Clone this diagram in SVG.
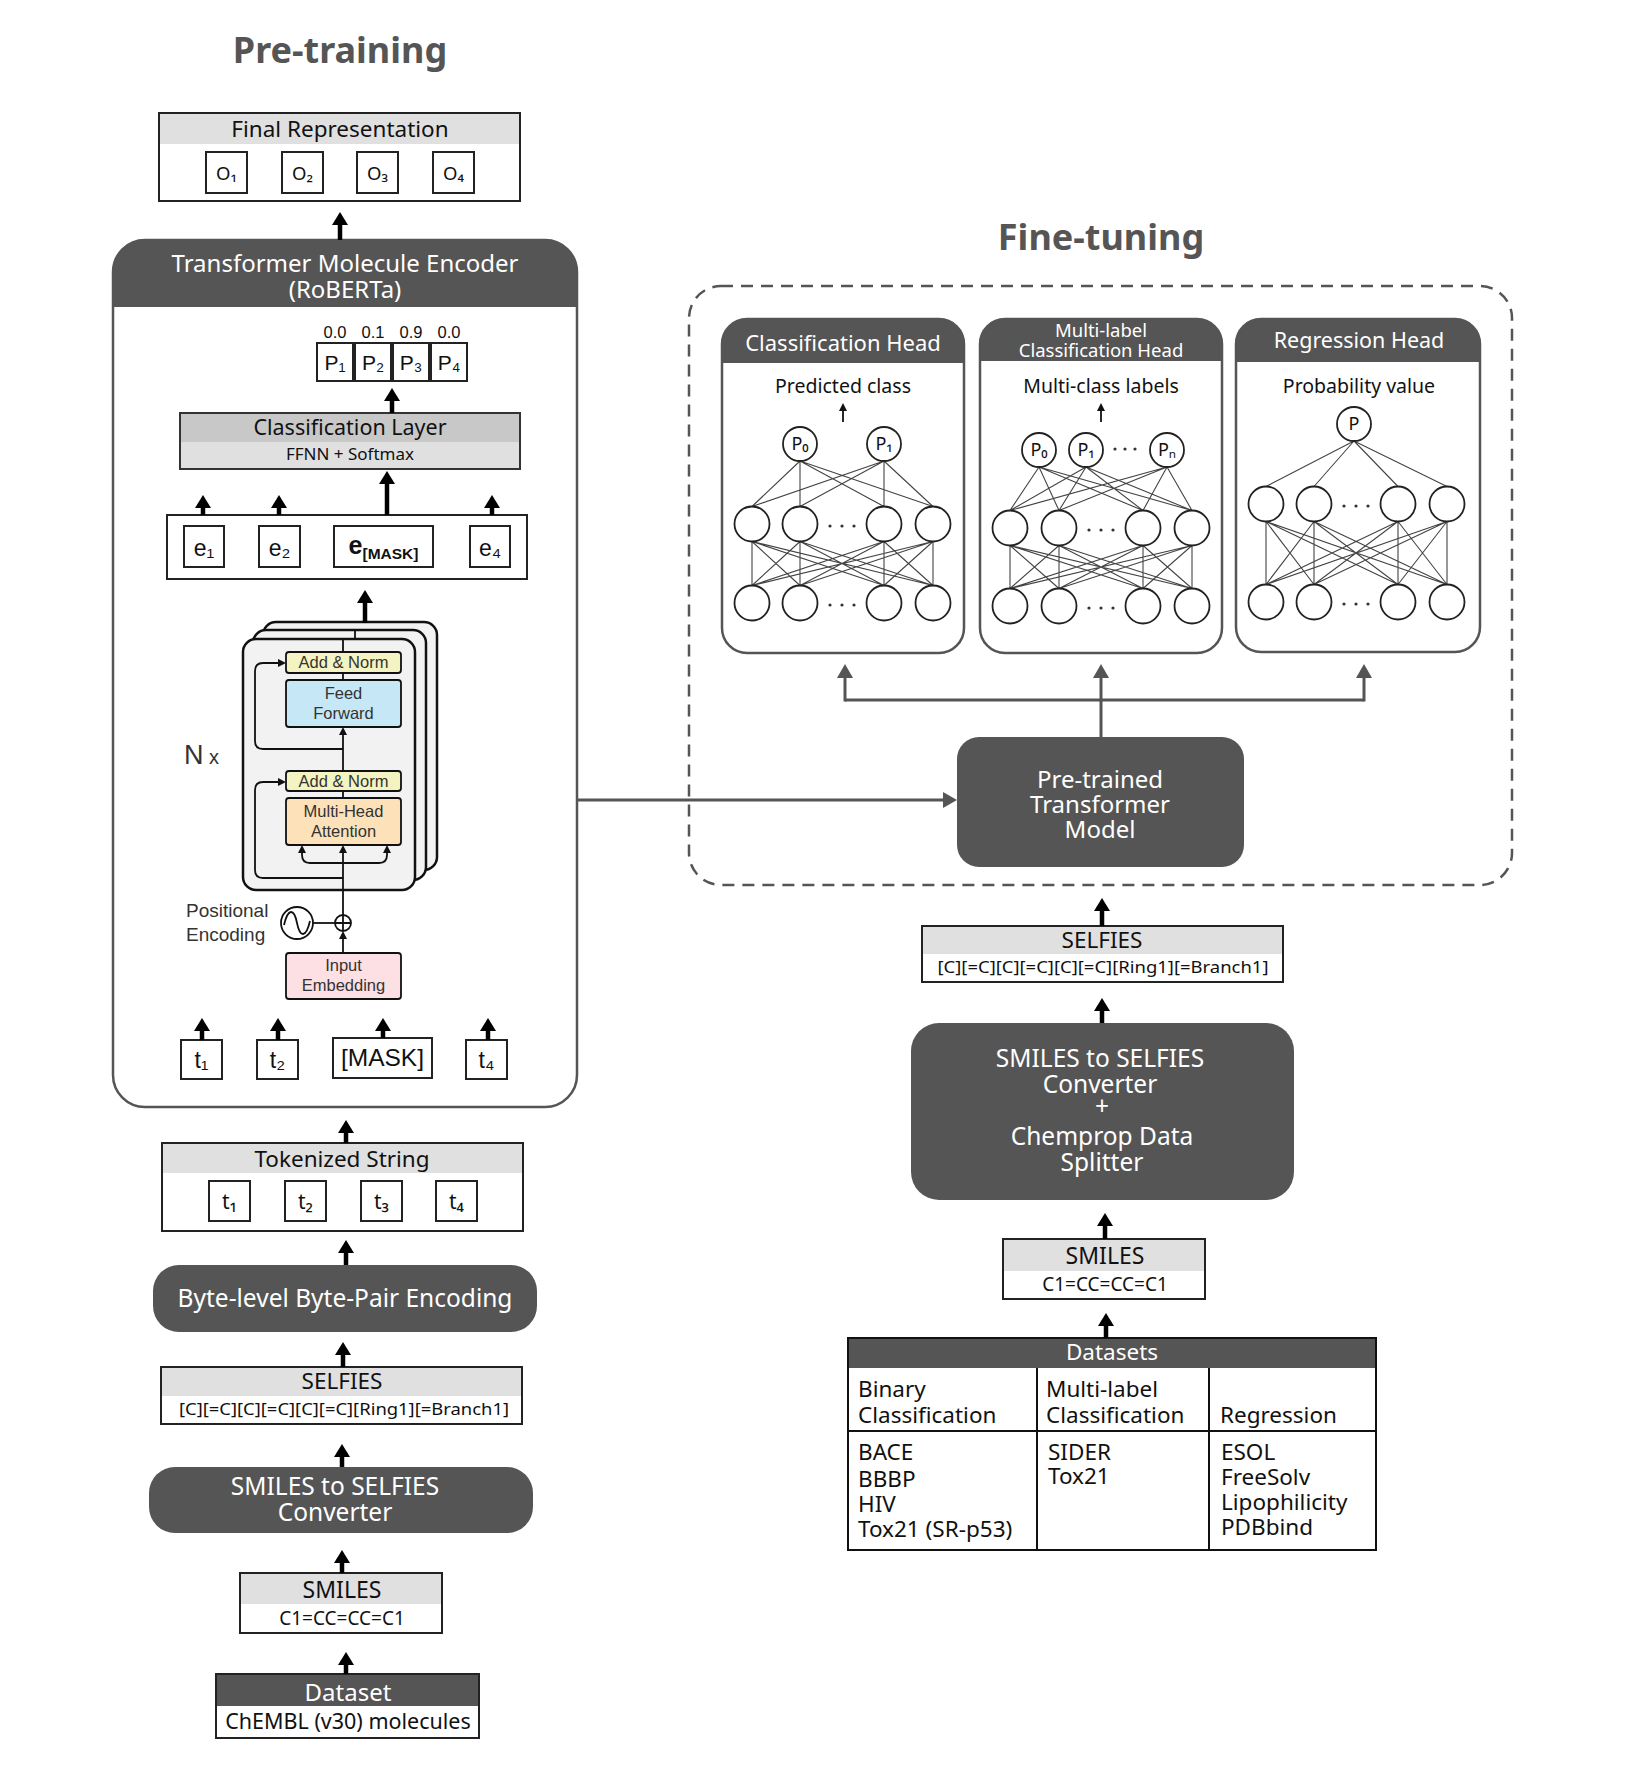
<svg xmlns="http://www.w3.org/2000/svg" width="1626" height="1770" viewBox="0 0 1626 1770">
<defs>
<style>
.t{font-family:"Noto Sans","Open Sans","DejaVu Sans",sans-serif;fill:#111}
.a{font-family:"Liberation Sans",Arial,"DejaVu Sans",sans-serif;fill:#111}
.g{fill:#333}
.w{fill:#fff}
.c{text-anchor:middle}
.ttl{font-weight:bold;font-size:36px;fill:#555}
.box{fill:#fff;stroke:#222;stroke-width:2}
.band{fill:#e0e0e0}
.dark{fill:#555}
.frame{fill:none;stroke:#555;stroke-width:2.5}
.arr{stroke:#000;stroke-width:4.5;fill:none;marker-end:url(#mb)}
.garr{stroke:#555;stroke-width:3;fill:none}
.gah{stroke:#555;stroke-width:3;fill:none;marker-end:url(#mg)}
.thin{stroke:#111;stroke-width:1.8;fill:none}
.tha{stroke:#111;stroke-width:1.8;fill:none;marker-end:url(#mt)}
.nn{stroke:#444;stroke-width:1.1;fill:none}
.node{fill:#fff;stroke:#222;stroke-width:1.8}
.dot{fill:#333}
.stk{fill:#f2f2f2;stroke:#111;stroke-width:2.5}
.tb{stroke:#111;stroke-width:1.8}
.dt{font-size:22.5px}
</style>
<marker id="mb" viewBox="0 0 13 16" markerWidth="13" markerHeight="16" refX="2" refY="8" orient="auto" markerUnits="userSpaceOnUse"><path d="M0,0 L13,8 L0,16 Z" fill="#000"/></marker>
<marker id="mg" viewBox="0 0 14 16" markerWidth="14" markerHeight="16" refX="2" refY="8" orient="auto" markerUnits="userSpaceOnUse"><path d="M0,0 L14,8 L0,16 Z" fill="#555"/></marker>
<marker id="mt" viewBox="0 0 8 8" markerWidth="8" markerHeight="8" refX="1" refY="4" orient="auto" markerUnits="userSpaceOnUse"><path d="M0,0 L8,4 L0,8 Z" fill="#111"/></marker>
</defs>
<rect width="1626" height="1770" fill="#fff"/>

<text class="t ttl c" x="340" y="63">Pre-training</text>
<text class="t ttl c" x="1101" y="250">Fine-tuning</text>

<!-- Final Representation -->
<g id="final-representation">
<rect class="box" x="159" y="113" width="361" height="88"/>
<rect class="band" x="160" y="114" width="359" height="30"/>
<text class="t c" x="340" y="137" font-size="22.5">Final Representation</text>
<rect class="box" x="206" y="152" width="41" height="41"/>
<rect class="box" x="282" y="152" width="41" height="41"/>
<rect class="box" x="357" y="152" width="41" height="41"/>
<rect class="box" x="433" y="152" width="41" height="41"/>
<text class="t c" x="226.5" y="180" font-size="18.5">O₁</text>
<text class="t c" x="302.5" y="180" font-size="18.5">O₂</text>
<text class="t c" x="377.5" y="180" font-size="18.5">O₃</text>
<text class="t c" x="453.5" y="180" font-size="18.5">O₄</text>
</g>

<!-- Encoder -->
<g id="encoder">
<rect x="113" y="240" width="464" height="867" rx="32" fill="#fff"/>
<path class="dark" d="M113,307 V272 A32,32 0 0 1 145,240 H545 A32,32 0 0 1 577,272 V307 Z"/>
<rect class="frame" x="113" y="240" width="464" height="867" rx="32"/>
<text class="t c w" x="345" y="272" font-size="24">Transformer Molecule Encoder</text>
<text class="t c w" x="345" y="298" font-size="24">(RoBERTa)</text>
</g>

<g id="probabilities">
<text class="a c" x="335" y="338" font-size="16.5">0.0</text>
<text class="a c" x="373" y="338" font-size="16.5">0.1</text>
<text class="a c" x="411" y="338" font-size="16.5">0.9</text>
<text class="a c" x="449" y="338" font-size="16.5">0.0</text>
<rect class="box" x="317" y="343" width="36" height="38"/>
<rect class="box" x="355" y="343" width="36" height="38"/>
<rect class="box" x="393" y="343" width="36" height="38"/>
<rect class="box" x="431" y="343" width="36" height="38"/>
<text class="a c" x="335" y="370" font-size="21">P₁</text>
<text class="a c" x="373" y="370" font-size="21">P₂</text>
<text class="a c" x="411" y="370" font-size="21">P₃</text>
<text class="a c" x="449" y="370" font-size="21">P₄</text>
</g>

<g id="classification-layer">
<rect x="180" y="413" width="340" height="29" fill="#c8c8c8"/>
<rect x="180" y="442" width="340" height="27" fill="#e0e0e0"/>
<rect x="180" y="413" width="340" height="56" fill="none" stroke="#333" stroke-width="2"/>
<text class="t c" x="350" y="435" font-size="21.5">Classification Layer</text>
<text class="t c" x="350" y="460" font-size="17">FFNN + Softmax</text>
</g>

<g id="embeddings">
<rect class="box" x="167" y="515" width="360" height="64"/>
<rect class="box" x="184" y="526" width="40" height="41"/>
<rect class="box" x="259" y="526" width="41" height="41"/>
<rect class="box" x="334" y="526" width="99" height="41"/>
<rect class="box" x="470" y="526" width="40" height="41"/>
<text class="a c" x="204" y="556" font-size="23">e₁</text>
<text class="a c" x="279.5" y="556" font-size="23">e₂</text>
<text class="a c" x="383.5" y="554" font-weight="bold"><tspan font-size="25">e</tspan><tspan font-size="15.5" dy="5">[MASK]</tspan></text>
<text class="a c" x="490" y="556" font-size="23">e₄</text>
</g>

<g id="transformer-block">
<rect class="stk" x="263" y="622" width="174" height="248" rx="13"/>
<rect class="stk" x="253" y="630" width="173" height="250" rx="13"/>
<rect class="stk" x="243" y="639" width="172" height="251" rx="13"/>
<path class="thin" d="M355,630 V639 M343,639 V652"/>
<rect class="tb" x="286" y="652" width="115" height="21" rx="3" fill="#f4f4c2"/>
<rect class="tb" x="286" y="680" width="115" height="47" rx="3" fill="#c6e7f5"/>
<rect class="tb" x="286" y="771" width="115" height="20" rx="3" fill="#f4f4c2"/>
<rect class="tb" x="286" y="798" width="115" height="47" rx="3" fill="#fde1b9"/>
<rect class="tb" x="286" y="953" width="115" height="46" rx="3" fill="#fde0e4"/>
<text class="a c g" x="343.5" y="668" font-size="16.5">Add &amp; Norm</text>
<text class="a c g" x="343.5" y="699" font-size="16.5">Feed</text>
<text class="a c g" x="343.5" y="719" font-size="16.5">Forward</text>
<text class="a c g" x="343.5" y="787" font-size="16.5">Add &amp; Norm</text>
<text class="a c g" x="343.5" y="817" font-size="16.5">Multi-Head</text>
<text class="a c g" x="343.5" y="837" font-size="16.5">Attention</text>
<text class="a c g" x="343.5" y="971" font-size="16.5">Input</text>
<text class="a c g" x="343.5" y="991" font-size="16.5">Embedding</text>
<path class="thin" d="M343,680 V673 M343,798 V791"/>
<path class="tha" d="M343,953 V938"/>
<path class="tha" d="M343,915 V852"/>
<path class="tha" d="M343,771 V734"/>
<path class="tha" d="M343,878 H263 Q255,878 255,870 V790 Q255,782 263,782 H279"/>
<path class="tha" d="M343,749 H263 Q255,749 255,741 V671 Q255,663 263,663 H279"/>
<path class="tha" d="M343,863 H310 Q302,863 302,855 V852"/>
<path class="tha" d="M343,863 H379 Q387,863 387,855 V852"/>
<circle cx="343" cy="923" r="8" fill="#fff" stroke="#111" stroke-width="1.8"/>
<path class="thin" d="M335,923 H351 M343,915 V931"/>
<circle cx="297" cy="923" r="16" fill="#fff" stroke="#111" stroke-width="1.8"/>
<path class="thin" d="M284,925 C288,908 294,908 297,923 C300,938 306,938 310,921"/>
<path class="thin" d="M313,923 H335"/>
<text class="a g" x="184" y="764"><tspan font-size="27">N</tspan><tspan font-size="20"> x</tspan></text>
<text class="a g" x="186" y="917" font-size="19">Positional</text>
<text class="a g" x="186" y="941" font-size="19">Encoding</text>
</g>

<g id="input-tokens">
<rect class="box" x="181" y="1040" width="41" height="39"/>
<rect class="box" x="257" y="1040" width="41" height="39"/>
<rect class="box" x="333" y="1038" width="99" height="40"/>
<rect class="box" x="466" y="1040" width="41" height="39"/>
<text class="a c" x="201.5" y="1068" font-size="23">t₁</text>
<text class="a c" x="277.5" y="1068" font-size="23">t₂</text>
<text class="a c" x="382.5" y="1066" font-size="24.5">[MASK]</text>
<text class="a c" x="486.5" y="1068" font-size="23">t₄</text>
</g>

<g id="tokenized-string">
<rect class="box" x="162" y="1143" width="361" height="88"/>
<rect class="band" x="163" y="1144" width="359" height="29"/>
<text class="t c" x="342" y="1167" font-size="22.5">Tokenized String</text>
<rect class="box" x="209" y="1181" width="41" height="40"/>
<rect class="box" x="285" y="1181" width="41" height="40"/>
<rect class="box" x="361" y="1181" width="41" height="40"/>
<rect class="box" x="436" y="1181" width="41" height="40"/>
<text class="t c" x="229.5" y="1209" font-size="21">t₁</text>
<text class="t c" x="305.5" y="1209" font-size="21">t₂</text>
<text class="t c" x="381.5" y="1209" font-size="21">t₃</text>
<text class="t c" x="456.5" y="1209" font-size="21">t₄</text>
</g>

<g id="bpe">
<rect class="dark" x="153" y="1265" width="384" height="67" rx="26"/>
<text class="t c w" x="345" y="1307" font-size="24.5">Byte-level Byte-Pair Encoding</text>
</g>

<g id="selfies-left">
<rect class="box" x="161" y="1367" width="361" height="57"/>
<rect class="band" x="162" y="1368" width="359" height="28"/>
<text class="t c" x="342" y="1389" font-size="22.5">SELFIES</text>
<text class="t c" x="344" y="1415" font-size="17" textLength="330" lengthAdjust="spacingAndGlyphs">[C][=C][C][=C][C][=C][Ring1][=Branch1]</text>
</g>

<g id="converter-left">
<rect class="dark" x="149" y="1467" width="384" height="66" rx="26"/>
<text class="t c w" x="335" y="1495" font-size="24.5">SMILES to SELFIES</text>
<text class="t c w" x="335" y="1521" font-size="24.5">Converter</text>
</g>

<g id="smiles-left">
<rect class="box" x="240" y="1573" width="202" height="60"/>
<rect class="band" x="241" y="1574" width="200" height="30"/>
<text class="t c" x="342" y="1598" font-size="23">SMILES</text>
<text class="t c" x="342" y="1625" font-size="19">C1=CC=CC=C1</text>
</g>

<g id="dataset-left">
<rect class="box" x="216" y="1674" width="263" height="64"/>
<rect class="dark" x="217" y="1675" width="261" height="31"/>
<text class="t c w" x="348" y="1701" font-size="24">Dataset</text>
<text class="t c" x="348" y="1729" font-size="21.5">ChEMBL (v30) molecules</text>
</g>

<!-- Fine-tuning -->
<g id="finetune-frame">
<rect x="689" y="286" width="823" height="599" rx="32" fill="none" stroke="#555" stroke-width="2.5" stroke-dasharray="12 8"/>
</g>

<g id="classification-head">
<rect x="722" y="319" width="242" height="334" rx="25" fill="#fff"/>
<path class="dark" d="M722,363 V344 A25,25 0 0 1 747,319 H939 A25,25 0 0 1 964,344 V363 Z"/>
<rect class="frame" x="722" y="319" width="242" height="334" rx="25"/>
<text class="t c w" x="843" y="351" font-size="22">Classification Head</text>
<text class="t c" x="843" y="393" font-size="19.5">Predicted class</text>
<path class="tha" d="M843,422 V410"/>
<path class="nn" d="M800,461 L752,506.5 M800,461 L800,506.5 M800,461 L884,506.5 M800,461 L933,506.5 M884,461 L752,506.5 M884,461 L800,506.5 M884,461 L884,506.5 M884,461 L933,506.5"/>
<path class="nn" d="M752,541.5 L752,585.5 M752,541.5 L800,585.5 M752,541.5 L884,585.5 M752,541.5 L933,585.5 M800,541.5 L752,585.5 M800,541.5 L800,585.5 M800,541.5 L884,585.5 M800,541.5 L933,585.5 M884,541.5 L752,585.5 M884,541.5 L800,585.5 M884,541.5 L884,585.5 M884,541.5 L933,585.5 M933,541.5 L752,585.5 M933,541.5 L800,585.5 M933,541.5 L884,585.5 M933,541.5 L933,585.5"/>
<circle class="node" cx="800" cy="444" r="17"/>
<circle class="node" cx="884" cy="444" r="17"/>
<text class="t c" x="800" y="450" font-size="18">P₀</text>
<text class="t c" x="884" y="450" font-size="18">P₁</text>
<circle class="node" cx="752" cy="524" r="17.5"/>
<circle class="node" cx="800" cy="524" r="17.5"/>
<circle class="node" cx="884" cy="524" r="17.5"/>
<circle class="node" cx="933" cy="524" r="17.5"/>
<circle class="node" cx="752" cy="603" r="17.5"/>
<circle class="node" cx="800" cy="603" r="17.5"/>
<circle class="node" cx="884" cy="603" r="17.5"/>
<circle class="node" cx="933" cy="603" r="17.5"/>
<circle class="dot" cx="830" cy="526" r="1.6"/><circle class="dot" cx="842" cy="526" r="1.6"/><circle class="dot" cx="854" cy="526" r="1.6"/>
<circle class="dot" cx="830" cy="605" r="1.6"/><circle class="dot" cx="842" cy="605" r="1.6"/><circle class="dot" cx="854" cy="605" r="1.6"/>
</g>

<g id="multilabel-head">
<rect x="980" y="319" width="242" height="334" rx="25" fill="#fff"/>
<path class="dark" d="M980,361 V344 A25,25 0 0 1 1005,319 H1197 A25,25 0 0 1 1222,344 V361 Z"/>
<rect class="frame" x="980" y="319" width="242" height="334" rx="25"/>
<text class="t c w" x="1101" y="337" font-size="18.5">Multi-label</text>
<text class="t c w" x="1101" y="357" font-size="18.5">Classification Head</text>
<text class="t c" x="1101" y="393" font-size="19.5">Multi-class labels</text>
<path class="tha" d="M1101,422 V410"/>
<path class="nn" d="M1039,467 L1010,510.5 M1039,467 L1059,510.5 M1039,467 L1143,510.5 M1039,467 L1192,510.5 M1086,467 L1010,510.5 M1086,467 L1059,510.5 M1086,467 L1143,510.5 M1086,467 L1192,510.5 M1167,467 L1010,510.5 M1167,467 L1059,510.5 M1167,467 L1143,510.5 M1167,467 L1192,510.5"/>
<path class="nn" d="M1010,545.5 L1010,588.5 M1010,545.5 L1059,588.5 M1010,545.5 L1143,588.5 M1010,545.5 L1192,588.5 M1059,545.5 L1010,588.5 M1059,545.5 L1059,588.5 M1059,545.5 L1143,588.5 M1059,545.5 L1192,588.5 M1143,545.5 L1010,588.5 M1143,545.5 L1059,588.5 M1143,545.5 L1143,588.5 M1143,545.5 L1192,588.5 M1192,545.5 L1010,588.5 M1192,545.5 L1059,588.5 M1192,545.5 L1143,588.5 M1192,545.5 L1192,588.5"/>
<circle class="node" cx="1039" cy="450" r="17"/>
<circle class="node" cx="1086" cy="450" r="17"/>
<circle class="node" cx="1167" cy="450" r="17"/>
<text class="t c" x="1039" y="456" font-size="18">P₀</text>
<text class="t c" x="1086" y="456" font-size="18">P₁</text>
<text class="t c" x="1167" y="456" font-size="18">Pₙ</text>
<circle class="dot" cx="1115" cy="449" r="1.6"/><circle class="dot" cx="1125" cy="449" r="1.6"/><circle class="dot" cx="1135" cy="449" r="1.6"/>
<circle class="node" cx="1010" cy="528" r="17.5"/>
<circle class="node" cx="1059" cy="528" r="17.5"/>
<circle class="node" cx="1143" cy="528" r="17.5"/>
<circle class="node" cx="1192" cy="528" r="17.5"/>
<circle class="node" cx="1010" cy="606" r="17.5"/>
<circle class="node" cx="1059" cy="606" r="17.5"/>
<circle class="node" cx="1143" cy="606" r="17.5"/>
<circle class="node" cx="1192" cy="606" r="17.5"/>
<circle class="dot" cx="1089" cy="530" r="1.6"/><circle class="dot" cx="1101" cy="530" r="1.6"/><circle class="dot" cx="1113" cy="530" r="1.6"/>
<circle class="dot" cx="1089" cy="608" r="1.6"/><circle class="dot" cx="1101" cy="608" r="1.6"/><circle class="dot" cx="1113" cy="608" r="1.6"/>
</g>

<g id="regression-head">
<rect x="1236" y="319" width="244" height="333" rx="25" fill="#fff"/>
<path class="dark" d="M1236,362 V344 A25,25 0 0 1 1261,319 H1455 A25,25 0 0 1 1480,344 V362 Z"/>
<rect class="frame" x="1236" y="319" width="244" height="333" rx="25"/>
<text class="t c w" x="1359" y="348" font-size="21.5">Regression Head</text>
<text class="t c" x="1359" y="393" font-size="19.5">Probability value</text>
<path class="nn" d="M1354,441 L1266,486.5 M1354,441 L1314,486.5 M1354,441 L1398,486.5 M1354,441 L1447,486.5"/>
<path class="nn" d="M1266,521.5 L1266,584.5 M1266,521.5 L1314,584.5 M1266,521.5 L1398,584.5 M1266,521.5 L1447,584.5 M1314,521.5 L1266,584.5 M1314,521.5 L1314,584.5 M1314,521.5 L1398,584.5 M1314,521.5 L1447,584.5 M1398,521.5 L1266,584.5 M1398,521.5 L1314,584.5 M1398,521.5 L1398,584.5 M1398,521.5 L1447,584.5 M1447,521.5 L1266,584.5 M1447,521.5 L1314,584.5 M1447,521.5 L1398,584.5 M1447,521.5 L1447,584.5"/>
<circle class="node" cx="1354" cy="424" r="17"/>
<text class="t c" x="1354" y="430" font-size="18">P</text>
<circle class="node" cx="1266" cy="504" r="17.5"/>
<circle class="node" cx="1314" cy="504" r="17.5"/>
<circle class="node" cx="1398" cy="504" r="17.5"/>
<circle class="node" cx="1447" cy="504" r="17.5"/>
<circle class="node" cx="1266" cy="602" r="17.5"/>
<circle class="node" cx="1314" cy="602" r="17.5"/>
<circle class="node" cx="1398" cy="602" r="17.5"/>
<circle class="node" cx="1447" cy="602" r="17.5"/>
<circle class="dot" cx="1344" cy="506" r="1.6"/><circle class="dot" cx="1356" cy="506" r="1.6"/><circle class="dot" cx="1368" cy="506" r="1.6"/>
<circle class="dot" cx="1344" cy="604" r="1.6"/><circle class="dot" cx="1356" cy="604" r="1.6"/><circle class="dot" cx="1368" cy="604" r="1.6"/>
</g>

<g id="pretrained-model">
<rect class="dark" x="957" y="737" width="287" height="130" rx="22"/>
<text class="t c w" x="1100" y="788" font-size="24">Pre-trained</text>
<text class="t c w" x="1100" y="813" font-size="24">Transformer</text>
<text class="t c w" x="1100" y="838" font-size="24">Model</text>
</g>

<g id="selfies-right">
<rect class="box" x="922" y="926" width="361" height="56"/>
<rect class="band" x="923" y="927" width="359" height="27"/>
<text class="t c" x="1102" y="948" font-size="22.5">SELFIES</text>
<text class="t c" x="1103" y="973" font-size="17" textLength="331" lengthAdjust="spacingAndGlyphs">[C][=C][C][=C][C][=C][Ring1][=Branch1]</text>
</g>

<g id="converter-right">
<rect class="dark" x="911" y="1023" width="383" height="177" rx="28"/>
<text class="t c w" x="1100" y="1067" font-size="24.5">SMILES to SELFIES</text>
<text class="t c w" x="1100" y="1093" font-size="24.5">Converter</text>
<text class="t c w" x="1102" y="1115" font-size="24.5">+</text>
<text class="t c w" x="1102" y="1145" font-size="24.5">Chemprop Data</text>
<text class="t c w" x="1102" y="1171" font-size="24.5">Splitter</text>
</g>

<g id="smiles-right">
<rect class="box" x="1003" y="1239" width="202" height="60"/>
<rect class="band" x="1004" y="1240" width="200" height="31"/>
<text class="t c" x="1105" y="1264" font-size="23">SMILES</text>
<text class="t c" x="1105" y="1291" font-size="19">C1=CC=CC=C1</text>
</g>

<g id="datasets-table">
<rect x="848" y="1338" width="528" height="212" fill="#fff" stroke="#111" stroke-width="2"/>
<rect class="dark" x="849" y="1339" width="526" height="29"/>
<path d="M1037,1368 V1550 M1209,1368 V1550 M848,1431 H1376" stroke="#111" stroke-width="2"/>
<text class="t c w" x="1112" y="1360" font-size="22.5">Datasets</text>
<text class="t dt" x="858" y="1397">Binary</text>
<text class="t dt" x="858" y="1423">Classification</text>
<text class="t dt" x="1046" y="1397">Multi-label</text>
<text class="t dt" x="1046" y="1423">Classification</text>
<text class="t dt" x="1220" y="1423">Regression</text>
<text class="t dt" x="858" y="1460">BACE</text>
<text class="t dt" x="858" y="1487">BBBP</text>
<text class="t dt" x="858" y="1512">HIV</text>
<text class="t dt" x="858" y="1537">Tox21 (SR-p53)</text>
<text class="t dt" x="1048" y="1460">SIDER</text>
<text class="t dt" x="1048" y="1484">Tox21</text>
<text class="t dt" x="1221" y="1460">ESOL</text>
<text class="t dt" x="1221" y="1485">FreeSolv</text>
<text class="t dt" x="1221" y="1510">Lipophilicity</text>
<text class="t dt" x="1221" y="1535">PDBbind</text>
</g>

<!-- Connectors -->
<g id="connectors">
<path class="arr" d="M340,240 V223"/>
<path class="arr" d="M392,413 V399"/>
<path class="arr" d="M203,515 V506"/>
<path class="arr" d="M279,515 V506"/>
<path class="arr" d="M492,515 V506"/>
<path class="arr" d="M387,515 V482"/>
<path class="arr" d="M365,623 V601"/>
<path class="arr" d="M202,1040 V1029"/>
<path class="arr" d="M278,1040 V1029"/>
<path class="arr" d="M383,1038 V1029"/>
<path class="arr" d="M488,1040 V1029"/>
<path class="arr" d="M346,1143 V1131"/>
<path class="arr" d="M346,1265 V1251"/>
<path class="arr" d="M343,1367 V1353"/>
<path class="arr" d="M342,1467 V1455"/>
<path class="arr" d="M342,1573 V1561"/>
<path class="arr" d="M346,1674 V1663"/>
<path class="arr" d="M1102,926 V909"/>
<path class="arr" d="M1102,1023 V1009"/>
<path class="arr" d="M1105,1239 V1224"/>
<path class="arr" d="M1106,1338 V1324"/>
<path class="gah" d="M577,800 H945"/>
<path class="garr" d="M1101,737 V700 M845,700 H1364"/>
<path class="gah" d="M845,701.5 V676"/>
<path class="gah" d="M1101,701.5 V676"/>
<path class="gah" d="M1364,701.5 V676"/>
</g>
</svg>
